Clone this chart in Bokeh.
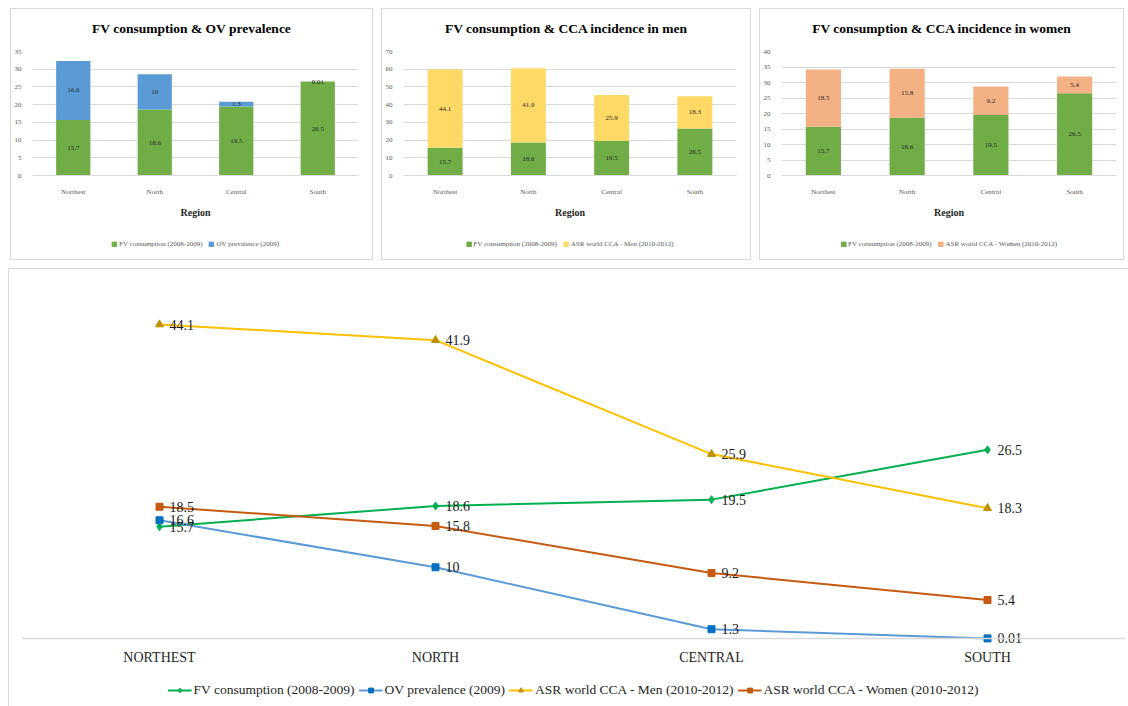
import numpy as np
from bokeh.plotting import figure
from bokeh.models import ColumnDataSource, Legend, LegendItem, Range1d, FixedTicker, Div
from bokeh.layouts import row, column
from bokeh.embed import file_html
from bokeh.resources import INLINE
from bokeh.core.properties import value

# ---------------- data ----------------
regions = ["Northest", "North", "Central", "South"]
region_ticks = ["NORTHEST", "NORTH", "CENTRAL", "SOUTH"]
fv = [15.7, 18.6, 19.5, 26.5]
ov = [16.6, 10, 1.3, 0.01]
cca_men = [44.1, 41.9, 25.9, 18.3]
cca_women = [18.5, 15.8, 9.2, 5.4]

fv_label = "FV consumption (2008-2009)"
ov_label = "OV prevalence (2009)"
men_label = "ASR world CCA - Men (2010-2012)"
women_label = "ASR world CCA - Women (2010-2012)"

FONT = "Liberation Serif"
GRID = "#D9D9D9"
GREEN_BAR = "#70AD47"
NO_DATA = np.array([np.nan])   # legend-only renderers draw nothing in the frame


def legend_strip(width, height):
    f = figure(width=width, height=height, x_range=Range1d(0, 1), y_range=Range1d(0, 1),
               x_axis_type=None, y_axis_type=None, output_backend="svg",
               toolbar_location=None, min_border=0)
    f.grid.visible = False
    f.outline_line_color = None
    return f


def bar_panel(title, second, second_label, second_color, ymax, ystep, left, fw, right):
    src = ColumnDataSource(dict(region=regions, fv=fv, second=second,
                                fv_mid=[v / 2 for v in fv],
                                sec_mid=[f + s / 2 for f, s in zip(fv, second)],
                                fv_txt=[str(v) for v in fv],
                                sec_txt=[str(v) for v in second]))
    width = left + fw + right
    head = Div(text=('<div style="font-family:\'Liberation Serif\';font-weight:bold;'
                     'font-size:13.5px;text-align:center;padding-top:10px;color:#000;'
                     'white-space:nowrap;width:%dpx">' % width)
                    + title.replace("&", "&amp;") + '</div>',
               width=width, height=36, margin=0, styles={"text-align": "center"})
    p = figure(x_range=regions, y_range=Range1d(0, ymax),
               frame_width=fw, frame_height=124,
               output_backend="svg", toolbar_location=None,
               min_border_left=left, min_border_right=right, min_border_top=6,
               min_border_bottom=54)
    p.vbar_stack(["fv", "second"], x="region", width=0.42, source=src,
                 color=[GREEN_BAR, second_color], line_color=None)
    p.text(x="region", y="fv_mid", text="fv_txt", source=src, text_align="center",
           text_baseline="middle", text_font=value(FONT), text_font_size="7px",
           text_color="#262626")
    p.text(x="region", y="sec_mid", text="sec_txt", source=src, text_align="center",
           text_baseline="middle", text_font=value(FONT), text_font_size="7px",
           text_color="#262626")
    p.outline_line_color = None
    p.xgrid.grid_line_color = None
    p.ygrid.grid_line_color = GRID
    p.yaxis.ticker = FixedTicker(ticks=list(range(0, ymax + 1, ystep)))
    p.yaxis.axis_line_color = None
    p.yaxis.major_tick_line_color = None
    p.yaxis.minor_tick_line_color = None
    p.yaxis.major_label_text_font = FONT
    p.yaxis.major_label_text_font_size = "7px"
    p.yaxis.major_label_text_color = "#595959"
    p.yaxis.major_label_standoff = 5
    p.xaxis.axis_line_color = GRID
    p.xaxis.major_tick_line_color = None
    p.xaxis.major_label_text_font = FONT
    p.xaxis.major_label_text_font_size = "7px"
    p.xaxis.major_label_text_color = "#595959"
    p.xaxis.major_label_standoff = 6
    p.xaxis.axis_label = "Region"
    p.xaxis.axis_label_text_font = FONT
    p.xaxis.axis_label_text_font_style = "bold"
    p.xaxis.axis_label_text_font_size = "10px"
    p.xaxis.axis_label_text_color = "#262626"
    p.xaxis.axis_label_standoff = 8

    lf = legend_strip(width, 30)
    r1 = lf.vbar(x=NO_DATA, top=NO_DATA, width=0.5, color=GREEN_BAR)
    r2 = lf.vbar(x=NO_DATA, top=NO_DATA, width=0.5, color=second_color)
    leg = Legend(items=[LegendItem(label=fv_label, renderers=[r1]),
                        LegendItem(label=second_label, renderers=[r2])],
                 orientation="horizontal", location="center",
                 label_text_font=FONT, label_text_font_size="7px",
                 label_text_color="#595959", glyph_width=6, glyph_height=6,
                 label_height=8, label_standoff=2, spacing=6, border_line_color=None,
                 background_fill_alpha=0, margin=0, padding=2)
    lf.add_layout(leg)
    return column(head, p, lf, spacing=0, styles={"border": "1px solid #D9D9D9"})


p1 = bar_panel("FV consumption & OV prevalence", ov, ov_label, "#5B9BD5", 35, 5, 21, 326, 14)
p2 = bar_panel("FV consumption & CCA incidence in men", cca_men, men_label, "#FFD966", 70, 10, 21, 333, 14)
p3 = bar_panel("FV consumption & CCA incidence in women", cca_women, women_label, "#F4B183", 40, 5, 21, 335, 7)

# ---------------- line chart ----------------
src = ColumnDataSource(dict(region=region_ticks, fv=fv, ov=ov, men=cca_men, women=cca_women,
                            fv_t=[str(v) for v in fv], ov_t=[str(v) for v in ov],
                            men_t=[str(v) for v in cca_men], women_t=[str(v) for v in cca_women]))
p4 = figure(x_range=region_ticks, y_range=Range1d(-4.5, 50), frame_width=1104, frame_height=388,
            output_backend="svg", toolbar_location=None,
            min_border_left=12, min_border_right=3, min_border_top=13, min_border_bottom=4)
p4.outline_line_color = None
p4.grid.grid_line_color = None
p4.yaxis.visible = False

series = [
    ("fv", "fv_t", fv_label, "#00B050", "#00B050", "diamond", 8),
    ("ov", "ov_t", ov_label, "#5B9BD5", "#0070C0", "square", 7),
    ("men", "men_t", men_label, "#FFC000", "#BF9000", "triangle", 8),
    ("women", "women_t", women_label, "#C55A11", "#C55A11", "square", 7),
]
for col, tcol, lab, lc, mc, mk, sz in series:
    p4.line(x="region", y=col, source=src, line_color=lc, line_width=2)
    p4.scatter(x="region", y=col, source=src, marker=mk, size=sz,
               fill_color=mc, line_color=mc)
for col, tcol, lab, lc, mc, mk, sz in series:
    p4.text(x="region", y=col, text=tcol, source=src, x_offset=10,
            text_baseline="middle", text_font=value(FONT), text_font_size="14px",
            text_color="#1a1a1a")

p4.xaxis.fixed_location = 0
p4.xaxis.axis_line_color = GRID
p4.xaxis.axis_line_width = 1.5
p4.xaxis.major_tick_line_color = None
p4.xaxis.major_label_text_font = FONT
p4.xaxis.major_label_text_font_size = "14px"
p4.xaxis.major_label_text_color = "#262626"
p4.xaxis.major_label_standoff = 6

lf4 = legend_strip(1119, 32)
items = []
for col, tcol, lab, lc, mc, mk, sz in series:
    l = lf4.line(x=NO_DATA, y=NO_DATA, line_color=lc, line_width=2)
    m = lf4.scatter(x=NO_DATA, y=NO_DATA, marker=mk, size=sz - 1, fill_color=mc, line_color=mc)
    items.append(LegendItem(label=lab, renderers=[l, m]))
leg4 = Legend(items=items, orientation="horizontal", location="center",
              label_text_font=FONT, label_text_font_size="13.5px",
              label_text_color="#262626", glyph_width=24, glyph_height=12,
              label_height=16, label_standoff=2, spacing=4, border_line_color=None,
              background_fill_alpha=0, margin=0, padding=2)
lf4.add_layout(leg4)

bottom = column(p4, lf4, spacing=0,
                styles={"border-top": "1px solid #D9D9D9", "border-left": "1px solid #D9D9D9"})

top = row(p1, p2, p3, spacing=8, margin=(0, 0, 0, 2))
layout = column(top, bottom, spacing=8, margin=(8, 0, 0, 8))

open("out.html", "w").write(file_html(layout, INLINE))
